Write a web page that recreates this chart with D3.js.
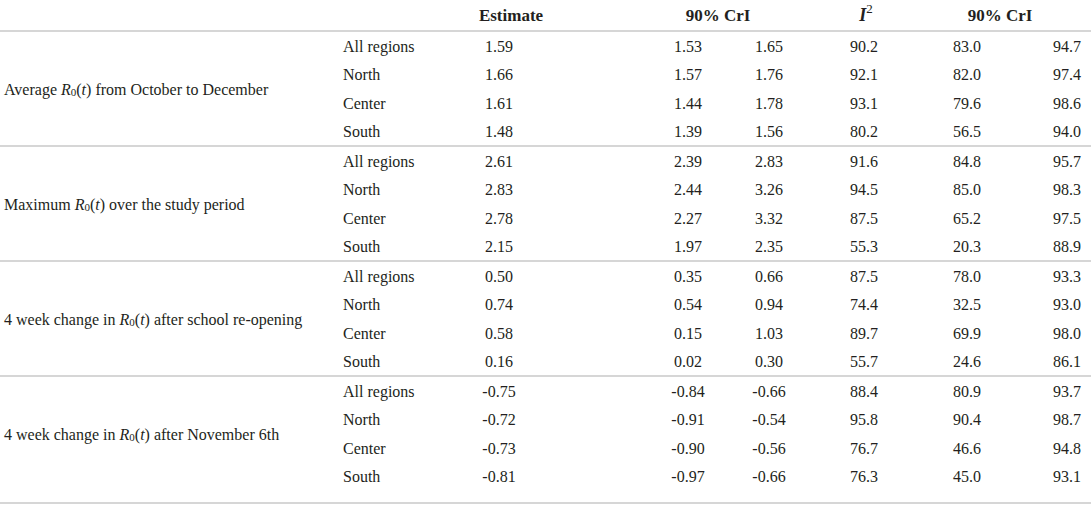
<!DOCTYPE html>
<html>
<head>
<meta charset="utf-8">
<script src="https://cdn.jsdelivr.net/npm/d3@7"></script>
<style>
  body { margin: 0; background: #fff; }
  svg text { font-family: "Liberation Serif", "DejaVu Serif", serif; fill: #231f20; }
</style>
</head>
<body>
<svg id="table"></svg>
<script>
const width = 1091, height = 508;

// table contents
const measures = [
  ["Average ", " from October to December"],
  ["Maximum ", " over the study period"],
  ["4 week change in ", " after school re-opening"],
  ["4 week change in ", " after November 6th"]
];
const regions = ["All regions", "North", "Center", "South"];
const estimate = [
  ["1.59", "1.66", "1.61", "1.48"],
  ["2.61", "2.83", "2.78", "2.15"],
  ["0.50", "0.74", "0.58", "0.16"],
  ["-0.75", "-0.72", "-0.73", "-0.81"]
];
const crLow = [
  ["1.53", "1.57", "1.44", "1.39"],
  ["2.39", "2.44", "2.27", "1.97"],
  ["0.35", "0.54", "0.15", "0.02"],
  ["-0.84", "-0.91", "-0.90", "-0.97"]
];
const crHigh = [
  ["1.65", "1.76", "1.78", "1.56"],
  ["2.83", "3.26", "3.32", "2.35"],
  ["0.66", "0.94", "1.03", "0.30"],
  ["-0.66", "-0.54", "-0.56", "-0.66"]
];
const i2 = [
  ["90.2", "92.1", "93.1", "80.2"],
  ["91.6", "94.5", "87.5", "55.3"],
  ["87.5", "74.4", "89.7", "55.7"],
  ["88.4", "95.8", "76.7", "76.3"]
];
const i2Low = [
  ["83.0", "82.0", "79.6", "56.5"],
  ["84.8", "85.0", "65.2", "20.3"],
  ["78.0", "32.5", "69.9", "24.6"],
  ["80.9", "90.4", "46.6", "45.0"]
];
const i2High = [
  ["94.7", "97.4", "98.6", "94.0"],
  ["95.7", "98.3", "97.5", "88.9"],
  ["93.3", "93.0", "98.0", "86.1"],
  ["93.7", "98.7", "94.8", "93.1"]
];

const numCols = ["est", "lo", "hi", "i2", "i2lo", "i2hi"];
const numData = {est: estimate, lo: crLow, hi: crHigh, i2: i2, i2lo: i2Low, i2hi: i2High};

const svg = d3.select("#table")
  .attr("width", width)
  .attr("height", height);

// column centres
const x = d3.scaleOrdinal()
  .domain(numCols)
  .range([499, 688, 769, 864, 967, 1067]);

// group top edge and row offset inside a group
const yGroup = d3.scaleLinear().domain([0, 3]).range([31, 376]);
const yRow = d3.scaleLinear().domain([0, 3]).range([15.5, 100.5]);

const lineColor = "#c8c8c8";

// header
const header = svg.append("g")
  .attr("font-weight", "bold")
  .attr("font-size", 17);

header.append("text").attr("x", 511).attr("y", 15).attr("text-anchor", "middle")
  .attr("dominant-baseline", "central").text("Estimate");
header.append("text").attr("x", 718).attr("y", 15).attr("text-anchor", "middle")
  .attr("dominant-baseline", "central").text("90% CrI");
header.append("text").attr("x", 1000).attr("y", 15).attr("text-anchor", "middle")
  .attr("dominant-baseline", "central").text("90% CrI");

const iHead = header.append("text").attr("x", 866).attr("y", 15).attr("text-anchor", "middle")
  .attr("dominant-baseline", "central");
iHead.append("tspan").attr("font-style", "italic").attr("font-size", 18).text("I");
iHead.append("tspan").attr("font-weight", "normal").attr("font-size", 13).attr("dy", -7).text("2");

// horizontal rules
const rules = d3.range(4).map(g => yGroup(g)).concat([503]);
svg.selectAll(".rule")
  .data(rules)
  .join("line")
  .attr("class", "rule")
  .attr("x1", 0).attr("x2", width)
  .attr("y1", d => d).attr("y2", d => d)
  .attr("stroke", lineColor)
  .attr("stroke-width", 1.5);

// groups
const groups = svg.selectAll(".grp")
  .data(measures)
  .join("g")
  .attr("class", "grp")
  .attr("transform", (d, g) => `translate(0,${yGroup(g)})`)
  .attr("font-size", 16);

// measure label with R0(t)
groups.each(function(d) {
  const t = d3.select(this).append("text")
    .attr("x", 4)
    .attr("y", (yRow(0) + yRow(3)) / 2)
    .attr("dominant-baseline", "central");
  t.append("tspan").text(d[0]);
  t.append("tspan").attr("font-style", "italic").text("R");
  t.append("tspan").attr("font-size", 11).attr("dy", 3).text("0");
  t.append("tspan").attr("dy", -3).text("(");
  t.append("tspan").attr("font-style", "italic").text("t");
  t.append("tspan").text(")" + d[1]);
});

// region names
groups.selectAll(".region")
  .data(regions)
  .join("text")
  .attr("class", "region")
  .attr("x", 343)
  .attr("y", (d, i) => yRow(i))
  .attr("dominant-baseline", "central")
  .text(d => d);

// numeric cells
groups.each(function(d, g) {
  const cells = numCols.flatMap(c => numData[c][g].map((v, i) => ({c, i, v})));
  d3.select(this).selectAll(".cell")
    .data(cells)
    .join("text")
    .attr("class", "cell")
    .attr("x", e => x(e.c))
    .attr("y", e => yRow(e.i))
    .attr("text-anchor", "middle")
    .attr("dominant-baseline", "central")
    .text(e => e.v);
});
</script>
</body>
</html>
